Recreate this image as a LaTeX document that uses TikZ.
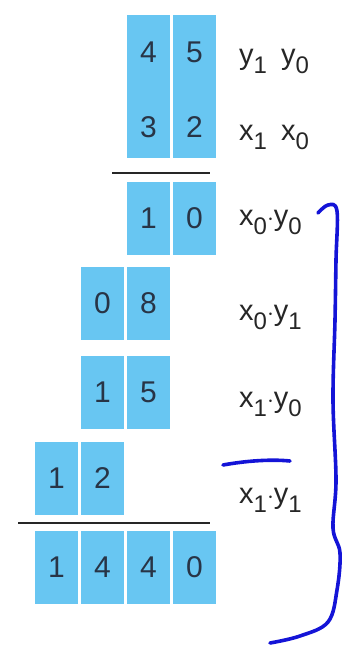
\documentclass[tikz,border=0pt]{standalone}
\usepackage{fontspec}
\setmainfont{Liberation Sans}
\newcommand\lowidx[1]{\raisebox{-9pt}{\fontsize{24}{24}\selectfont #1}}
\definecolor{cellblue}{RGB}{104,198,242}
\definecolor{digitc}{RGB}{40,52,70}
\definecolor{penblue}{RGB}{20,20,215}
\tikzset{
  cell/.style={rectangle, fill=cellblue, minimum width=43pt, minimum height=73pt, inner sep=0pt,
    font=\fontsize{30}{30}\selectfont, text=digitc},
  tallcell/.style={rectangle, fill=cellblue, minimum width=43pt, minimum height=143pt, inner sep=0pt},
  digit/.style={inner sep=0pt, font=\fontsize{30}{30}\selectfont, text=digitc},
  lbl/.style={anchor=base west, inner sep=0pt, font=\fontsize{29}{29}\selectfont, text=black!85},
  rule/.style={line width=2pt, black!85},
  pen/.style={penblue, line width=3.6pt, line cap=round, line join=round}
}
\begin{document}
\begin{tikzpicture}[x=1pt,y=-1pt]
\useasboundingbox (0,0) rectangle (343,648);
% top operands
\node[tallcell] (ta) at (148.5,86.5) {};
\node[tallcell] (tb) at (194.5,86.5) {};
\node[digit] (d4) at (148.5,52) {4};
\node[digit] (d5) at (194.5,52) {5};
\node[digit] (d3) at (148.5,127) {3};
\node[digit] (d2) at (194.5,127) {2};
\coordinate (l1a) at (112,173);
\coordinate (l1b) at (210,173);
\draw[rule] (l1a) -- (l1b);
% partial products
\node[cell] (p1a) at (148.5,218) {1};
\node[cell] (p1b) at (194.5,218) {0};
\node[cell] (p2a) at (102.5,303) {0};
\node[cell] (p2b) at (148.5,303) {8};
\node[cell] (p3a) at (102.5,392.5) {1};
\node[cell] (p3b) at (148.5,392.5) {5};
\node[cell] (p4a) at (56.5,478.5) {1};
\node[cell] (p4b) at (102.5,478.5) {2};
\coordinate (l2a) at (18,523);
\coordinate (l2b) at (210,523);
\draw[rule] (l2a) -- (l2b);
% result
\node[cell] (r1) at (56.5,567.5) {1};
\node[cell] (r2) at (102.5,567.5) {4};
\node[cell] (r3) at (148.5,567.5) {4};
\node[cell] (r4) at (194.5,567.5) {0};
% labels
\node[lbl] (ly) at (239,64) {y\lowidx{1}\hspace{14pt}y\lowidx{0}};
\node[lbl] (lx) at (239,140) {x\lowidx{1}\hspace{14pt}x\lowidx{0}};
\node[lbl] (q1) at (239,225) {x\lowidx{0}$\cdot$y\lowidx{0}};
\node[lbl] (q2) at (239,320) {x\lowidx{0}$\cdot$y\lowidx{1}};
\node[lbl] (q3) at (239,407) {x\lowidx{1}$\cdot$y\lowidx{0}};
\node[lbl] (q4) at (239,503) {x\lowidx{1}$\cdot$y\lowidx{1}};
% handwritten marks
\draw[pen] (223,465) .. controls (245,461) and (270,459) .. (290,461);
\draw[pen] plot[smooth, tension=0.6] coordinates {
  (318,213) (328,205) (337,211) (336,260) (335,320) (333,400) (336,480) (333,528)
  (340,553) (337,590) (328,622) (300,636) (270,643)};
\end{tikzpicture}
\end{document}
